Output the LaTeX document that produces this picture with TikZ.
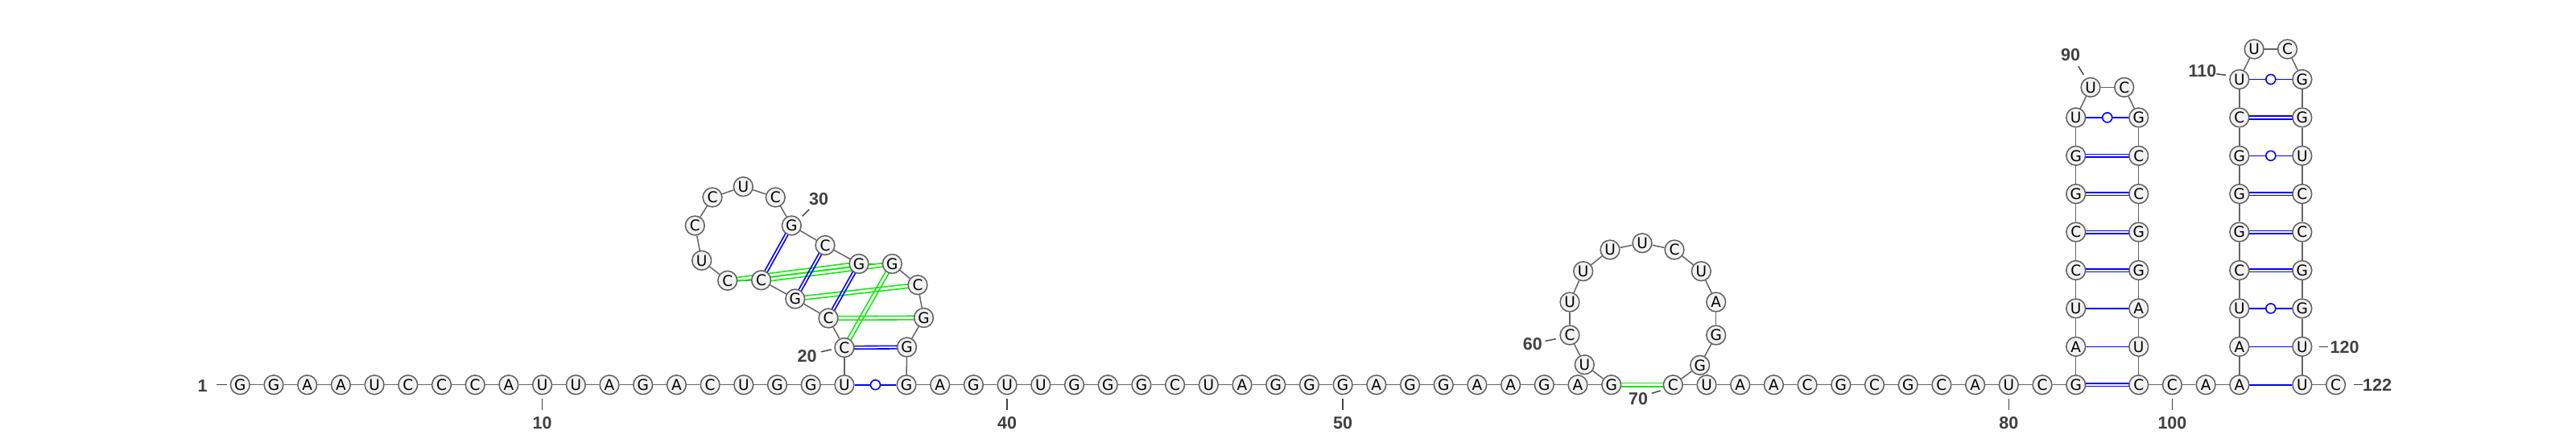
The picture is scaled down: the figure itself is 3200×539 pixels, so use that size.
\documentclass[tikz,border=0pt]{standalone}
\usepackage{fontspec}
\setmainfont{DejaVu Sans}
\newfontfamily\numfamily{Liberation Sans}
\usetikzlibrary{calc,backgrounds}
\definecolor{ntborder}{RGB}{96,96,96}
\definecolor{ntfill}{RGB}{242,242,242}
\definecolor{bbgray}{RGB}{100,100,100}
\definecolor{lblgray}{RGB}{64,64,64}
\definecolor{pkgreen}{RGB}{20,235,20}
\newcommand\ntfont{\fontsize{18.5}{18.5}\selectfont}
\newcommand\lblfont{\fontsize{21.5}{21.5}\numfamily\bfseries}
\newcommand\pairdbl[4]{%
  \draw[#3] ($(#1)!#4!90:(#2)$) -- ($(#2)!#4!-90:(#1)$);
  \draw[#3] ($(#1)!#4!-90:(#2)$) -- ($(#2)!#4!90:(#1)$);}
\tikzset{
  nt/.style={circle, draw=ntborder, fill=ntfill, line width=1.5pt, minimum size=23.8pt,
    inner sep=0pt, font=\ntfont, text height=13.5pt, text depth=0pt},
  bb/.style={draw=bbgray, line width=1.5pt},
  bpair/.style={draw=blue, line width=1.6pt},
  gpair/.style={draw=pkgreen, line width=1.6pt},
  tickline/.style={draw=lblgray, line width=1.4pt},
  lbl/.style={font=\lblfont, text=lblgray, inner sep=0pt},
  wob/.style={draw=blue, fill=white, line width=1.6pt}
}
\begin{document}
\begin{tikzpicture}[x=1pt,y=-1pt]
\useasboundingbox (0,0) rectangle (3200,539);
% backbone 1-19
\node[nt] (n1) at (298.3,477.7) {G};
\node[nt] (n2) at (340.0,477.7) {G};
\node[nt] (n3) at (381.7,477.7) {A};
\node[nt] (n4) at (423.4,477.7) {A};
\node[nt] (n5) at (465.1,477.7) {U};
\node[nt] (n6) at (506.8,477.7) {C};
\node[nt] (n7) at (548.5,477.7) {C};
\node[nt] (n8) at (590.2,477.7) {C};
\node[nt] (n9) at (631.9,477.7) {A};
\node[nt] (n10) at (673.6,477.7) {U};
\node[nt] (n11) at (715.3,477.7) {U};
\node[nt] (n12) at (757.0,477.7) {A};
\node[nt] (n13) at (798.7,477.7) {G};
\node[nt] (n14) at (840.4,477.7) {A};
\node[nt] (n15) at (882.1,477.7) {C};
\node[nt] (n16) at (923.8,477.7) {U};
\node[nt] (n17) at (965.5,477.7) {G};
\node[nt] (n18) at (1007.2,477.7) {G};
\node[nt] (n19) at (1048.9,477.7) {U};
% pseudoknot region
\node[nt] (n20) at (1048.9,431.5) {C};
\node[nt] (n21) at (1029.0,395.0) {C};
\node[nt] (n22) at (987.8,371.0) {G};
\node[nt] (n23) at (945.6,347.8) {C};
\node[nt] (n24) at (903.7,348.3) {C};
\node[nt] (n25) at (871.7,323.3) {U};
\node[nt] (n26) at (863.3,280.0) {C};
\node[nt] (n27) at (885.0,245.0) {C};
\node[nt] (n28) at (923.3,231.7) {U};
\node[nt] (n29) at (963.3,245.0) {C};
\node[nt] (n30) at (983.3,280.0) {G};
\node[nt] (n31) at (1025.0,304.5) {C};
\node[nt] (n32) at (1067.0,327.5) {G};
\node[nt] (n33) at (1108.3,327.5) {G};
\node[nt] (n34) at (1140.0,353.7) {C};
\node[nt] (n35) at (1147.5,394.5) {G};
\node[nt] (n36) at (1126.5,431.0) {G};
% backbone 37-58
\node[nt] (n37) at (1126.0,477.7) {G};
\node[nt] (n38) at (1167.7,477.7) {A};
\node[nt] (n39) at (1209.4,477.7) {G};
\node[nt] (n40) at (1251.1,477.7) {U};
\node[nt] (n41) at (1292.8,477.7) {U};
\node[nt] (n42) at (1334.5,477.7) {G};
\node[nt] (n43) at (1376.2,477.7) {G};
\node[nt] (n44) at (1417.9,477.7) {G};
\node[nt] (n45) at (1459.6,477.7) {C};
\node[nt] (n46) at (1501.3,477.7) {U};
\node[nt] (n47) at (1543.0,477.7) {A};
\node[nt] (n48) at (1584.7,477.7) {G};
\node[nt] (n49) at (1626.4,477.7) {G};
\node[nt] (n50) at (1668.1,477.7) {G};
\node[nt] (n51) at (1709.8,477.7) {A};
\node[nt] (n52) at (1751.5,477.7) {G};
\node[nt] (n53) at (1793.2,477.7) {G};
\node[nt] (n54) at (1834.9,477.7) {A};
\node[nt] (n55) at (1876.6,477.7) {A};
\node[nt] (n56) at (1918.3,477.7) {G};
\node[nt] (n57) at (1960.0,477.7) {A};
\node[nt] (n58) at (2001.7,477.7) {G};
% hairpin loop
\node[nt] (n59) at (1968.3,452.7) {U};
\node[nt] (n60) at (1950.0,416.0) {C};
\node[nt] (n61) at (1950.0,375.0) {U};
\node[nt] (n62) at (1966.7,336.7) {U};
\node[nt] (n63) at (2000.0,310.0) {U};
\node[nt] (n64) at (2040.0,301.7) {U};
\node[nt] (n65) at (2080.0,310.0) {C};
\node[nt] (n66) at (2113.3,336.7) {U};
\node[nt] (n67) at (2131.7,375.0) {A};
\node[nt] (n68) at (2131.7,416.0) {G};
\node[nt] (n69) at (2111.7,453.3) {G};
% backbone 70-82
\node[nt] (n70) at (2078.3,477.7) {C};
\node[nt] (n71) at (2120.0,477.7) {U};
\node[nt] (n72) at (2161.7,477.7) {A};
\node[nt] (n73) at (2203.4,477.7) {A};
\node[nt] (n74) at (2245.1,477.7) {C};
\node[nt] (n75) at (2286.8,477.7) {G};
\node[nt] (n76) at (2328.5,477.7) {C};
\node[nt] (n77) at (2370.2,477.7) {G};
\node[nt] (n78) at (2411.9,477.7) {C};
\node[nt] (n79) at (2453.6,477.7) {A};
\node[nt] (n80) at (2495.3,477.7) {U};
\node[nt] (n81) at (2537.0,477.7) {C};
% stem 1
\node[nt] (n82) at (2578.7,477.7) {G};
\node[nt] (n83) at (2578.7,430.3) {A};
\node[nt] (n84) at (2578.7,382.9) {U};
\node[nt] (n85) at (2578.7,335.5) {C};
\node[nt] (n86) at (2578.7,288.1) {C};
\node[nt] (n87) at (2578.7,240.7) {G};
\node[nt] (n88) at (2578.7,193.3) {G};
\node[nt] (n89) at (2578.7,145.9) {U};
\node[nt] (n90) at (2597.0,108.4) {U};
\node[nt] (n91) at (2638.7,108.4) {C};
\node[nt] (n92) at (2656.7,145.9) {G};
\node[nt] (n93) at (2656.7,193.3) {C};
\node[nt] (n94) at (2656.7,240.7) {C};
\node[nt] (n95) at (2656.7,288.1) {G};
\node[nt] (n96) at (2656.7,335.5) {G};
\node[nt] (n97) at (2656.7,382.9) {A};
\node[nt] (n98) at (2656.7,430.3) {U};
\node[nt] (n99) at (2656.7,477.7) {C};
\node[nt] (n100) at (2698.4,477.7) {C};
\node[nt] (n101) at (2740.1,477.7) {A};
% stem 2
\node[nt] (n102) at (2781.8,477.7) {A};
\node[nt] (n103) at (2781.8,430.3) {A};
\node[nt] (n104) at (2781.8,382.9) {U};
\node[nt] (n105) at (2781.8,335.5) {C};
\node[nt] (n106) at (2781.8,288.1) {G};
\node[nt] (n107) at (2781.8,240.7) {G};
\node[nt] (n108) at (2781.8,193.3) {G};
\node[nt] (n109) at (2781.8,145.9) {C};
\node[nt] (n110) at (2781.8,98.5) {U};
\node[nt] (n111) at (2800.1,61.0) {U};
\node[nt] (n112) at (2841.5,61.0) {C};
\node[nt] (n113) at (2859.8,98.5) {G};
\node[nt] (n114) at (2859.8,145.9) {G};
\node[nt] (n115) at (2859.8,193.3) {U};
\node[nt] (n116) at (2859.8,240.7) {C};
\node[nt] (n117) at (2859.8,288.1) {C};
\node[nt] (n118) at (2859.8,335.5) {G};
\node[nt] (n119) at (2859.8,382.9) {G};
\node[nt] (n120) at (2859.8,430.3) {U};
\node[nt] (n121) at (2859.8,477.7) {U};
\node[nt] (n122) at (2901.5,477.7) {C};
% labels
\node[lbl] (l1) at (251.7,479.0) {1};
\node[lbl] (l10) at (673.6,525.0) {10};
\node[lbl] (l20) at (1002.5,442.0) {20};
\node[lbl] (l30) at (1017.0,247.5) {30};
\node[lbl] (l40) at (1251.1,525.0) {40};
\node[lbl] (l50) at (1668.1,525.0) {50};
\node[lbl] (l60) at (1903.8,427.5) {60};
\node[lbl] (l70) at (2035.0,495.0) {70};
\node[lbl] (l80) at (2495.3,525.0) {80};
\node[lbl] (l90) at (2572.0,68.0) {90};
\node[lbl] (l100) at (2698.4,525.0) {100};
\node[lbl] (l110) at (2736.0,88.3) {110};
\node[lbl] (l120) at (2912.5,431.0) {120};
\node[lbl] (l122) at (2953.0,478.0) {122};
\begin{scope}[on background layer]
  \fill[white] (0,0) rectangle (3200,539);
  % backbone
  \foreach \i [count=\j from 2] in {1,...,121} {\draw[bb] (n\i) -- (n\j);}
  % green (tertiary / pseudoknot) pairs
  \pairdbl{n24}{n32}{gpair}{2.3pt}
  \pairdbl{n23}{n33}{gpair}{2.3pt}
  \pairdbl{n22}{n34}{gpair}{2.3pt}
  \pairdbl{n21}{n35}{gpair}{2.3pt}
  \pairdbl{n20}{n33}{gpair}{2.3pt}
  \pairdbl{n58}{n70}{gpair}{2.3pt}
  % canonical GC pairs
  \pairdbl{n20}{n36}{bpair}{1.8pt}
  \pairdbl{n21}{n32}{bpair}{1.8pt}
  \pairdbl{n22}{n31}{bpair}{1.8pt}
  \pairdbl{n23}{n30}{bpair}{1.8pt}
  \pairdbl{n82}{n99}{bpair}{1.8pt}
  \pairdbl{n85}{n96}{bpair}{1.8pt}
  \pairdbl{n86}{n95}{bpair}{1.8pt}
  \pairdbl{n87}{n94}{bpair}{1.8pt}
  \pairdbl{n88}{n93}{bpair}{1.8pt}
  \pairdbl{n105}{n118}{bpair}{1.8pt}
  \pairdbl{n106}{n117}{bpair}{1.8pt}
  \pairdbl{n107}{n116}{bpair}{1.8pt}
  \pairdbl{n109}{n114}{bpair}{1.8pt}
  % AU pairs
  \draw[bpair] (n83) -- (n98);
  \draw[bpair] (n84) -- (n97);
  \draw[bpair] (n102) -- (n121);
  \draw[bpair] (n103) -- (n120);
  % GU wobble pair lines
  \draw[bpair] (n19) -- (n37);
  \draw[bpair] (n89) -- (n92);
  \draw[bpair] (n104) -- (n119);
  \draw[bpair] (n108) -- (n115);
  \draw[bpair] (n110) -- (n113);
\end{scope}
\draw[wob] ($(n19)!0.5!(n37)$) circle (6pt);
\draw[wob] ($(n89)!0.5!(n92)$) circle (6pt);
\draw[wob] ($(n104)!0.5!(n119)$) circle (6pt);
\draw[wob] ($(n108)!0.5!(n115)$) circle (6pt);
\draw[wob] ($(n110)!0.5!(n113)$) circle (6pt);
% label ticks
\draw[tickline] (269.3,477.7) -- (281.7,477.7);
\draw[tickline] (673.6,495) -- (673.6,509);
\draw[tickline] (1251.1,495) -- (1251.1,509);
\draw[tickline] (1668.1,495) -- (1668.1,509);
\draw[tickline] (2495.3,495) -- (2495.3,509);
\draw[tickline] (2698.4,495) -- (2698.4,509);
\draw[tickline] (1020.0,436.7) -- (1032.7,434.0);
\draw[tickline] (996.7,268.3) -- (1005.0,260.0);
\draw[tickline] (1920.0,423.3) -- (1932.7,420.7);
\draw[tickline] (2051.7,488.3) -- (2062.7,485.0);
\draw[tickline] (2581.7,82.3) -- (2588.3,92.7);
\draw[tickline] (2753.3,91.7) -- (2765.0,93.3);
\draw[tickline] (2881.0,430.3) -- (2892.0,430.3);
\draw[tickline] (2924.0,477.7) -- (2935.0,477.7);
\end{tikzpicture}
\end{document}
